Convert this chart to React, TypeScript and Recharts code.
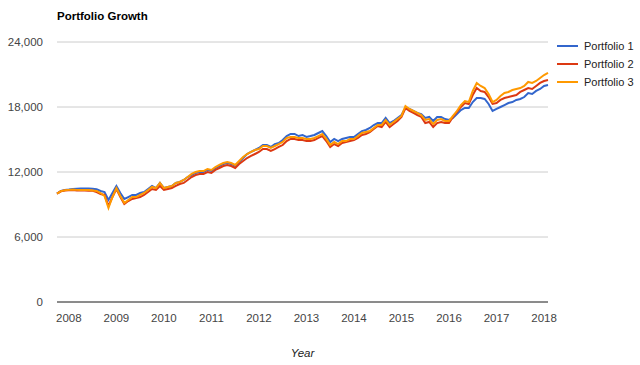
import { LineChart, Line, XAxis, YAxis, CartesianGrid, Legend } from 'recharts';

// monthly observations, Oct 2007 .. Feb 2018
const START_YEAR = 2007;
const START_MONTH = 10;

const portfolio1 = [
  10000, 10250, 10340, 10380, 10430, 10450, 10470, 10480, 10480, 10460,
  10400, 10250, 10150, 9420, 10060, 10710, 10060, 9510, 9690, 9880,
  9880, 10060, 10150, 10430, 10710, 10520, 10990, 10520, 10620, 10710,
  10990, 11080, 11260, 11540, 11720, 11910, 12000, 12000, 12190, 12090,
  12370, 12550, 12740, 12830, 12740, 12550, 12920, 13290, 13660, 13850,
  14030, 14220, 14490, 14490, 14310, 14580, 14680, 14950, 15320, 15510,
  15510, 15320, 15420, 15230, 15320, 15420, 15600, 15780, 15320, 14770,
  15050, 14860, 15050, 15140, 15230, 15230, 15510, 15780, 15880, 16060,
  16340, 16520, 16520, 16990, 16520, 16710, 16990, 17260, 17910, 17820,
  17630, 17450, 17350, 16990, 17080, 16710, 17080, 17080, 16890, 16800,
  16990, 17350, 17720, 17910, 17910, 18460, 18830, 18830, 18740, 18280,
  17630, 17820, 18000, 18180, 18370, 18460, 18650, 18740, 18920, 19290,
  19200, 19480, 19660, 19940, 20030,
];

const portfolio2 = [
  10000, 10220, 10300, 10320, 10340, 10300, 10290, 10290, 10280, 10260,
  10150, 9970, 9880, 8860, 9690, 10430, 9690, 9050, 9320, 9510,
  9600, 9690, 9880, 10150, 10430, 10340, 10710, 10340, 10430, 10520,
  10710, 10890, 10990, 11260, 11540, 11720, 11820, 11820, 12000, 11910,
  12190, 12370, 12550, 12650, 12550, 12370, 12740, 13020, 13290, 13480,
  13660, 13850, 14120, 14120, 13940, 14120, 14310, 14490, 14860, 15050,
  15050, 14950, 14950, 14860, 14860, 14950, 15140, 15320, 14860, 14310,
  14580, 14400, 14680, 14770, 14860, 14950, 15140, 15420, 15510, 15690,
  15970, 16250, 16150, 16620, 16150, 16430, 16710, 17080, 17910, 17630,
  17450, 17260, 17080, 16520, 16620, 16150, 16520, 16620, 16520, 16520,
  17080, 17540, 18000, 18370, 18280, 19110, 19750, 19480, 19390, 18920,
  18280, 18370, 18650, 18830, 18920, 19020, 19110, 19390, 19570, 19750,
  19660, 19940, 20220, 20400, 20490,
];

const portfolio3 = [
  10000, 10240, 10320, 10350, 10380, 10350, 10340, 10340, 10330, 10300,
  10250, 10060, 9790, 8680, 9690, 10520, 9790, 9140, 9420, 9690,
  9690, 9880, 10060, 10340, 10620, 10520, 10990, 10520, 10620, 10710,
  10990, 11080, 11260, 11540, 11820, 12000, 12090, 12090, 12280, 12190,
  12460, 12650, 12830, 12920, 12830, 12650, 13020, 13380, 13660, 13850,
  14030, 14120, 14400, 14400, 14220, 14400, 14580, 14770, 15140, 15230,
  15230, 15140, 15140, 15050, 15050, 15140, 15320, 15510, 15050, 14490,
  14770, 14580, 14860, 14860, 15050, 15050, 15320, 15600, 15690, 15780,
  16060, 16340, 16340, 16800, 16340, 16620, 16890, 17170, 18090, 17820,
  17630, 17450, 17260, 16800, 16890, 16430, 16800, 16890, 16710, 16710,
  17170, 17630, 18180, 18550, 18460, 19480, 20220, 19940, 19750, 19200,
  18460, 18650, 19020, 19290, 19390, 19570, 19660, 19750, 19940, 20310,
  20220, 20400, 20680, 20950, 21140,
];

const yearTicks = [2008, 2009, 2010, 2011, 2012, 2013, 2014, 2015, 2016, 2017, 2018];
const valueTicks = [0, 6000, 12000, 18000, 24000];

const seriesNames = ['Portfolio 1', 'Portfolio 2', 'Portfolio 3'];
const COLORS = ['#3366cc', '#dc3912', '#ff9900'];

const FONT = '"Liberation Sans", Arial, sans-serif';

const data = portfolio1.map((v, i) => {
  const m = START_MONTH - 1 + i;
  return {
    t: START_YEAR + Math.floor(m / 12) + (m % 12) / 12,
    p1: v,
    p2: portfolio2[i],
    p3: portfolio3[i],
  };
});

function LegendBox({ payload }: any) {
  return (
    <div style={{ fontFamily: FONT, fontSize: 11, color: '#222' }}>
      {(payload || []).map((entry: any) => (
        <div key={entry.value} style={{ display: 'flex', alignItems: 'center', height: 18 }}>
          <svg width={21} height={4} style={{ marginRight: 6 }}>
            <line x1={0} y1={2} x2={21} y2={2} stroke={entry.color} strokeWidth={2} />
          </svg>
          <span style={{ whiteSpace: 'nowrap' }}>{entry.value}</span>
        </div>
      ))}
    </div>
  );
}

export default function App() {
  return (
    <div style={{ position: 'absolute', left: 0, top: 0, width: 640, height: 365, background: '#fff', overflow: 'hidden' }}>
      <div
        style={{
          position: 'absolute',
          left: 57,
          top: 10,
          fontFamily: FONT,
          fontSize: 11.5,
          fontWeight: 'bold',
          color: '#000',
          zIndex: 2,
        }}
      >
        Portfolio Growth
      </div>
      <LineChart width={640} height={365} data={data} margin={{ top: 42, right: 92, bottom: 3, left: 7 }}>
        <CartesianGrid vertical={false} stroke="#cccccc" />
        <XAxis
          dataKey="t"
          type="number"
          domain={[2007.75, 2018.0833]}
          ticks={yearTicks}
          height={60}
          tickLine={false}
          axisLine={{ stroke: '#333333' }}
          tickMargin={6}
          tick={{ fill: '#444', fontSize: 11.5, fontFamily: FONT }}
          label={{
            value: 'Year',
            position: 'insideBottom',
            offset: 5,
            style: { fill: '#222', fontSize: 11.5, fontStyle: 'italic', fontFamily: FONT },
          }}
        />
        <YAxis
          width={50}
          domain={[0, 24000]}
          ticks={valueTicks}
          tickLine={false}
          axisLine={false}
          tickMargin={8}
          tickFormatter={(v: number) => v.toLocaleString('en-US')}
          tick={{ fill: '#444', fontSize: 11.5, fontFamily: FONT }}
        />
        <Legend
          layout="horizontal"
          align="center"
          verticalAlign="middle"
          content={<LegendBox />}
          wrapperStyle={{ left: 557, top: 37, width: 83, height: 60 }}
        />
        {['p1', 'p2', 'p3'].map((key, i) => (
          <Line
            key={key}
            type="linear"
            dataKey={key}
            name={seriesNames[i]}
            stroke={COLORS[i]}
            strokeWidth={2}
            dot={false}
            isAnimationActive={false}
          />
        ))}
      </LineChart>
    </div>
  );
}
